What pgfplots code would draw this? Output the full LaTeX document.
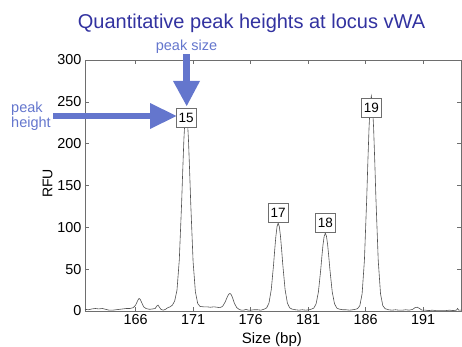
\documentclass[border=0pt]{standalone}
\usepackage{fontspec}
\setmainfont{Liberation Sans}
\usepackage{pgfplots}
\pgfplotsset{compat=1.18}
\definecolor{titleblue}{RGB}{50,50,160}
\definecolor{annblue}{RGB}{100,118,205}
\definecolor{axgray}{RGB}{110,110,110}
\definecolor{tracegray}{RGB}{80,80,80}
\begin{document}
\begin{tikzpicture}
\useasboundingbox (0pt,0pt) rectangle (462pt,346pt);
\begin{axis}[
  at={(85pt,35pt)}, anchor=south west,
  scale only axis, width=376pt, height=251pt,
  xmin=161.6, xmax=194.3, ymin=0, ymax=300,
  xtick={166,171,176,181,186,191}, ytick={0,50,100,150,200,250,300},
  axis line style={axgray, line width=0.6pt},
  tick style={axgray, line width=0.5pt}, major tick length=4pt,
  tick align=inside, xtick pos=both, ytick pos=both,
  xticklabel pos=bottom, yticklabel pos=left,
  ticklabel style={font=\fontsize{14.4}{16}\selectfont},
  /pgf/number format/assume math mode=true,
  xlabel={Size (bp)}, ylabel={RFU},
  xlabel style={font=\fontsize{15}{17}\selectfont, at={(axis description cs:0.497,-0.1295)}, anchor=base},
  ylabel style={font=\fontsize{14}{16}\selectfont, at={(axis description cs:-0.0997,0.508)}, anchor=center},
  clip=false,
]
\addplot[tracegray, line width=0.6pt] coordinates {
(161.6,2) (161.9,1.5) (162.2,2.5) (162.5,3) (162.8,2.5) (163.1,3) (163.4,2) (163.7,1) (164.0,1) (164.3,1.5) (164.6,2) (164.9,2.5) (165.2,3) (165.5,3) (165.8,4)
(166.0,7) (166.1,10) (166.2,13) (166.3,15) (166.4,14) (166.5,11) (166.6,8) (166.7,5) (166.9,3) (167.2,2) (167.5,2.5) (167.7,3)
(167.85,6) (167.95,7) (168.05,5) (168.2,2) (168.4,1) (168.6,2) (168.8,4) (169.0,5)
(169.2,7) (169.4,12) (169.6,25) (169.8,61) (170.0,128) (170.1,168) (170.2,205) (170.3,231) (170.4,240) (170.5,230) (170.6,204) (170.7,167) (170.8,127) (171.0,59) (171.2,23) (171.4,9)
(171.6,5.5) (171.9,5) (172.2,5) (172.5,4.5) (172.8,5) (173.1,4.5) (173.3,4) (173.5,5)
(173.6,6.3) (173.8,11) (173.9,14.4) (174.0,17.6) (174.1,20) (174.2,21) (174.3,20) (174.4,17) (174.5,13) (174.6,9) (174.8,4) (175.0,2) (175.2,1) (175.4,1) (175.6,2) (175.8,1) (176.0,1) (176.3,1.5) (176.6,1.5) (176.9,1)
(177.2,2.3) (177.4,3.8) (177.6,9.5) (177.8,25.7) (178.0,55.6) (178.1,73.4) (178.2,89.4) (178.3,100.9) (178.4,105) (178.5,100.9) (178.6,89.4) (178.7,73.4) (178.8,55.6) (179.0,25.7) (179.2,9.5) (179.4,3.8) (179.6,2.3)
(179.9,1.5) (180.2,1) (180.5,1.5) (180.8,1) (181.1,1.5)
(181.3,2.3) (181.5,3.5) (181.7,8.6) (181.9,22.9) (182.1,49.3) (182.2,65.1) (182.3,79.3) (182.4,89.4) (182.5,93) (182.6,89.4) (182.7,79.3) (182.8,65.1) (182.9,49.3) (183.1,22.9) (183.3,8.6) (183.5,3.5) (183.7,2.3)
(184.0,1.5) (184.3,1.5) (184.6,1) (184.9,1.5) (185.1,2)
(185.3,2.8) (185.5,6.3) (185.7,20.6) (185.9,60.7) (186.1,134.6) (186.2,178.7) (186.3,218.5) (186.4,246.8) (186.5,257) (186.6,246.8) (186.7,218.5) (186.8,178.7) (186.9,134.6) (187.1,60.7) (187.3,20.6) (187.5,6.3) (187.7,2.8)
(188.0,1.5) (188.3,1) (188.6,1.5) (188.9,1) (189.2,1) (189.5,1.5) (189.8,1) (190.1,2) (190.3,4) (190.5,4.5) (190.7,3) (190.9,1) (191.2,1) (191.5,0.5) (191.8,1) (192.1,0.5) (192.4,0.5) (192.7,0.5) (193.0,0.5) (193.3,1) (193.6,0.5) (193.9,1) (194.0,3) (194.1,1) (194.3,1)
};
\tikzset{pk/.style={draw=axgray, fill=white, line width=0.5pt, inner sep=0pt, minimum width=20pt, minimum height=19pt, font=\fontsize{13.5}{15}\selectfont}}
\node[pk] at (axis cs:170.4,231) {15};
\node[pk] at (axis cs:178.4,117) {17};
\node[pk] at (axis cs:182.5,105) {18};
\node[pk] at (axis cs:186.5,243) {19};
\end{axis}
% title and annotations
\node[anchor=base, text=titleblue, font=\fontsize{20}{22}\selectfont] at (251.5pt,317pt) {Quantitative peak heights at locus vWA};
\node[anchor=base, text=annblue, font=\fontsize{14.5}{16}\selectfont, inner sep=0pt] at (186.5pt,295pt) {peak size};
\node[anchor=base west, text=annblue, font=\fontsize{14.5}{16}\selectfont, inner sep=0pt] at (11pt,234pt) {peak};
\node[anchor=base west, text=annblue, font=\fontsize{14.5}{16}\selectfont, inner sep=0pt] at (11pt,219pt) {height};
\fill[annblue] (183.4pt,292pt) rectangle (190pt,264pt);
\fill[annblue] (173pt,265pt) -- (200pt,265pt) -- (186.7pt,240pt) -- cycle;
\fill[annblue] (53pt,233pt) rectangle (151pt,227pt);
\fill[annblue] (150pt,243pt) -- (150pt,217pt) -- (176.5pt,230pt) -- cycle;
\end{tikzpicture}
\end{document}
